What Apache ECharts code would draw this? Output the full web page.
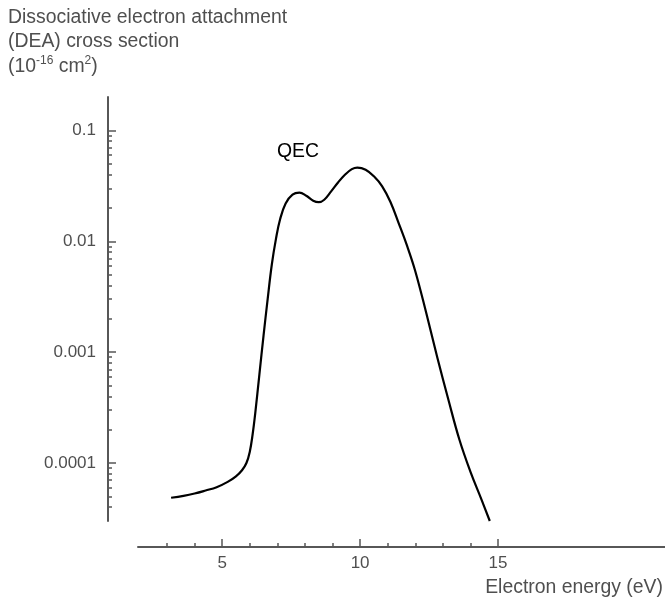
<!DOCTYPE html>
<html>
<head>
<meta charset="utf-8">
<script src="https://cdn.jsdelivr.net/npm/echarts@6/dist/echarts.min.js"></script>
<style>
  html, body { margin: 0; padding: 0; background: #ffffff; }
  #chart { width: 665px; height: 601px; }
</style>
</head>
<body>
<div id="chart"></div>
<script>
// Electron energy (eV) and DEA cross section (10^-16 cm^2)
const energy = [3.15, 3.6, 4.0, 4.4, 4.8, 5.2, 5.5, 5.72, 5.88, 6.0, 6.1, 6.2, 6.35, 6.5,
  6.65, 6.8, 6.95, 7.1, 7.3, 7.55, 7.8, 8.05, 8.3, 8.5, 8.7, 8.95, 9.2, 9.45, 9.7, 9.9,
  10.2, 10.5, 10.8, 11.1, 11.4, 11.7, 12.0, 12.4, 12.8, 13.2, 13.6, 14.0, 14.4, 14.7];
const crossSection = [4.86e-5, 5.06e-5, 5.31e-5, 5.65e-5, 6.05e-5, 6.76e-5, 7.59e-5, 8.61e-5,
  1.0e-4, 1.26e-4, 1.78e-4, 2.82e-4, 6.31e-4, 1.41e-3, 3.02e-3, 6.17e-3, 1.05e-2, 1.58e-2,
  2.19e-2, 2.63e-2, 2.74e-2, 2.57e-2, 2.32e-2, 2.25e-2, 2.37e-2, 2.82e-2, 3.39e-2, 3.98e-2,
  4.47e-2, 4.62e-2, 4.42e-2, 3.85e-2, 3.13e-2, 2.26e-2, 1.45e-2, 9.12e-3, 5.37e-3, 2.24e-3,
  8.91e-4, 3.72e-4, 1.62e-4, 8.32e-5, 4.68e-5, 3.0e-5];

// Axis ticks and labels
const xMajorTicks = [5, 10, 15];
const xTickLabels = ['5', '10', '15'];
const xMinorTicks = [3, 4, 6, 7, 8, 9, 11, 12, 13, 14];
const yMajorTicks = [0.0001, 0.001, 0.01, 0.1];
const yTickLabels = ['0.0001', '0.001', '0.01', '0.1'];
const yMinorTicks = [
  0.00004, 0.00005, 0.00006, 0.00007, 0.00008, 0.00009,
  0.0002, 0.0003, 0.0004, 0.0005, 0.0006, 0.0007, 0.0008, 0.0009,
  0.002, 0.003, 0.004, 0.005, 0.006, 0.007, 0.008, 0.009,
  0.02, 0.03, 0.04, 0.05, 0.06, 0.07, 0.08, 0.09
];

const FONT = '"Liberation Sans", Arial, Helvetica, sans-serif';
const AXIS_COLOR = '#575757';
const TEXT_COLOR = '#4f4f4f';

function labelFor(ticks, labels) {
  return function (v) {
    const i = ticks.findIndex(t => Math.abs(Math.log10(t) - Math.log10(v)) < 1e-6);
    return i >= 0 ? labels[i] : '';
  };
}

const xRange = { min: 1.95, max: 21.05 };
const yRange = { min: 0.00003, max: 0.2 };

const chart = echarts.init(document.getElementById('chart'), null, { renderer: 'canvas' });

chart.setOption({
  animation: false,
  backgroundColor: '#ffffff',
  grid: { left: 138, right: 0, top: 97, bottom: 80 },
  xAxis: [
    {
      type: 'value', min: xRange.min, max: xRange.max, position: 'bottom', offset: 26,
      axisLine: { show: true, lineStyle: { color: AXIS_COLOR, width: 2 } },
      axisTick: { show: true, inside: true, length: 8, customValues: xMajorTicks,
        lineStyle: { color: AXIS_COLOR, width: 1.5 } },
      axisLabel: { show: true, customValues: xMajorTicks, margin: 8,
        formatter: v => xTickLabels[xMajorTicks.indexOf(v)],
        color: TEXT_COLOR, fontSize: 17, fontFamily: FONT },
      splitLine: { show: false }
    },
    {
      type: 'value', min: xRange.min, max: xRange.max, position: 'bottom', offset: 26,
      axisLine: { show: false },
      axisTick: { show: true, inside: true, length: 4, customValues: xMinorTicks,
        lineStyle: { color: AXIS_COLOR, width: 1.5 } },
      axisLabel: { show: false },
      splitLine: { show: false }
    }
  ],
  yAxis: [
    {
      type: 'log', logBase: 10, min: yRange.min, max: yRange.max, position: 'left', offset: 30,
      axisLine: { show: true, lineStyle: { color: AXIS_COLOR, width: 2 } },
      axisTick: { show: true, inside: true, length: 8, customValues: yMajorTicks,
        lineStyle: { color: AXIS_COLOR, width: 1.5 } },
      axisLabel: { show: true, customValues: yMajorTicks, margin: 12,
        formatter: labelFor(yMajorTicks, yTickLabels),
        color: TEXT_COLOR, fontSize: 17, fontFamily: FONT, padding: [3, 0, 0, 0] },
      splitLine: { show: false }
    },
    {
      type: 'log', logBase: 10, min: yRange.min, max: yRange.max, position: 'left', offset: 30,
      axisLine: { show: false },
      axisTick: { show: true, inside: true, length: 4, customValues: yMinorTicks,
        lineStyle: { color: AXIS_COLOR, width: 1.5 } },
      axisLabel: { show: false },
      splitLine: { show: false }
    }
  ],
  series: [
    {
      name: 'QEC',
      type: 'line',
      xAxisIndex: 0,
      yAxisIndex: 0,
      data: energy.map((e, i) => [e, crossSection[i]]),
      showSymbol: false,
      smooth: 0.4,
      lineStyle: { color: '#000000', width: 2.2 }
    }
  ],
  graphic: [
    {
      type: 'text', left: 8, top: 8,
      style: { text: 'Dissociative electron attachment', fill: TEXT_COLOR,
        font: '19.4px ' + FONT }
    },
    {
      type: 'text', left: 8, top: 32,
      style: { text: '(DEA) cross section', fill: TEXT_COLOR, font: '19.4px ' + FONT }
    },
    {
      type: 'text', left: 8, top: 55,
      style: {
        text: '{n|(10}{s|-16}{n| cm}{s|2}{n|)}',
        rich: {
          n: { fontSize: 19.4, lineHeight: 24, fontFamily: FONT, fill: TEXT_COLOR },
          s: { fontSize: 12, lineHeight: 15, fontFamily: FONT, fill: TEXT_COLOR, verticalAlign: 'top' }
        }
      }
    },
    {
      type: 'text', left: 277, top: 142,
      style: { text: 'QEC', fill: '#000000', font: '19.4px ' + FONT }
    },
    {
      type: 'text', right: 2, top: 578,
      style: { text: 'Electron energy (eV)', fill: TEXT_COLOR, font: '19.4px ' + FONT }
    }
  ]
});
</script>
</body>
</html>
